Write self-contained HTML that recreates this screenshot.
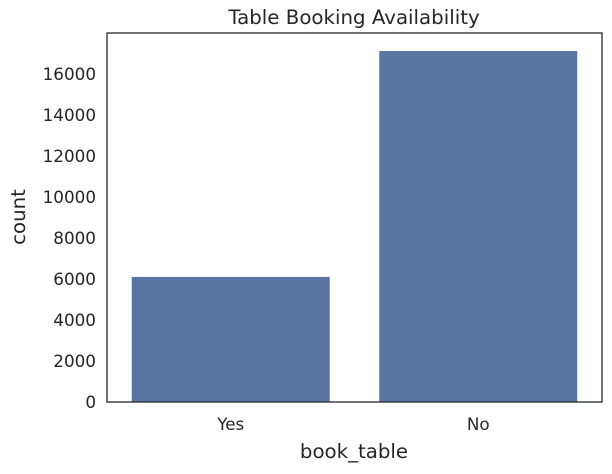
<!DOCTYPE html>
<html><head><meta charset="utf-8"><style>
html,body{margin:0;padding:0;background:#fff;}
svg text{font-family:"DejaVu Sans","Liberation Sans",sans-serif;fill:#262626;}
</style></head><body>
<svg id="chart" width="612" height="469" viewBox="0 0 612 469" xmlns="http://www.w3.org/2000/svg">
<text x="354" y="24" font-size="19.8" text-anchor="middle">Table Booking Availability</text>
<g id="bars"></g>
<g id="yticks"></g>
<g id="xticks"></g>
<rect x="107" y="33" width="495" height="369" fill="none" stroke="#262626" stroke-width="1.3"/>
<text x="354" y="458" font-size="19.8" text-anchor="middle">book_table</text>
<text transform="translate(25,217) rotate(-90)" font-size="19.8" text-anchor="middle">count</text>
</svg>
<script>
const categories = ["Yes", "No"];
const counts = [6100, 17120];
const yTickValues = [0, 2000, 4000, 6000, 8000, 10000, 12000, 14000, 16000];

const L = 107, R = 602, B = 402;
const pxPer = 41 / 2000;
function y(v){ return B - v * pxPer; }
const band = (R - L) / categories.length;
function xc(i){ return L + band * (i + 0.5); }
const NS = "http://www.w3.org/2000/svg";
const bars = document.getElementById('bars');
const yt = document.getElementById('yticks');
const xt = document.getElementById('xticks');

categories.forEach((c, i) => {
  const w = band * 0.8;
  const r = document.createElementNS(NS, 'rect');
  r.setAttribute('x', xc(i) - w / 2);
  r.setAttribute('y', y(counts[i]));
  r.setAttribute('width', w);
  r.setAttribute('height', B - y(counts[i]));
  r.setAttribute('fill', '#5975a4');
  
  
  bars.appendChild(r);
  const t = document.createElementNS(NS, 'text');
  t.setAttribute('x', xc(i));
  t.setAttribute('y', 430);
  t.setAttribute('font-size', '16.8');
  t.setAttribute('text-anchor', 'middle');
  t.textContent = c;
  
  
  xt.appendChild(t);
});

yTickValues.forEach(v => {
  const t = document.createElementNS(NS, 'text');
  t.setAttribute('x', 96);
  t.setAttribute('y', y(v) + 6);
  t.setAttribute('font-size', '16.8');
  t.setAttribute('text-anchor', 'end');
  t.textContent = v;
  
  
  yt.appendChild(t);
});
</script>
</body></html>
